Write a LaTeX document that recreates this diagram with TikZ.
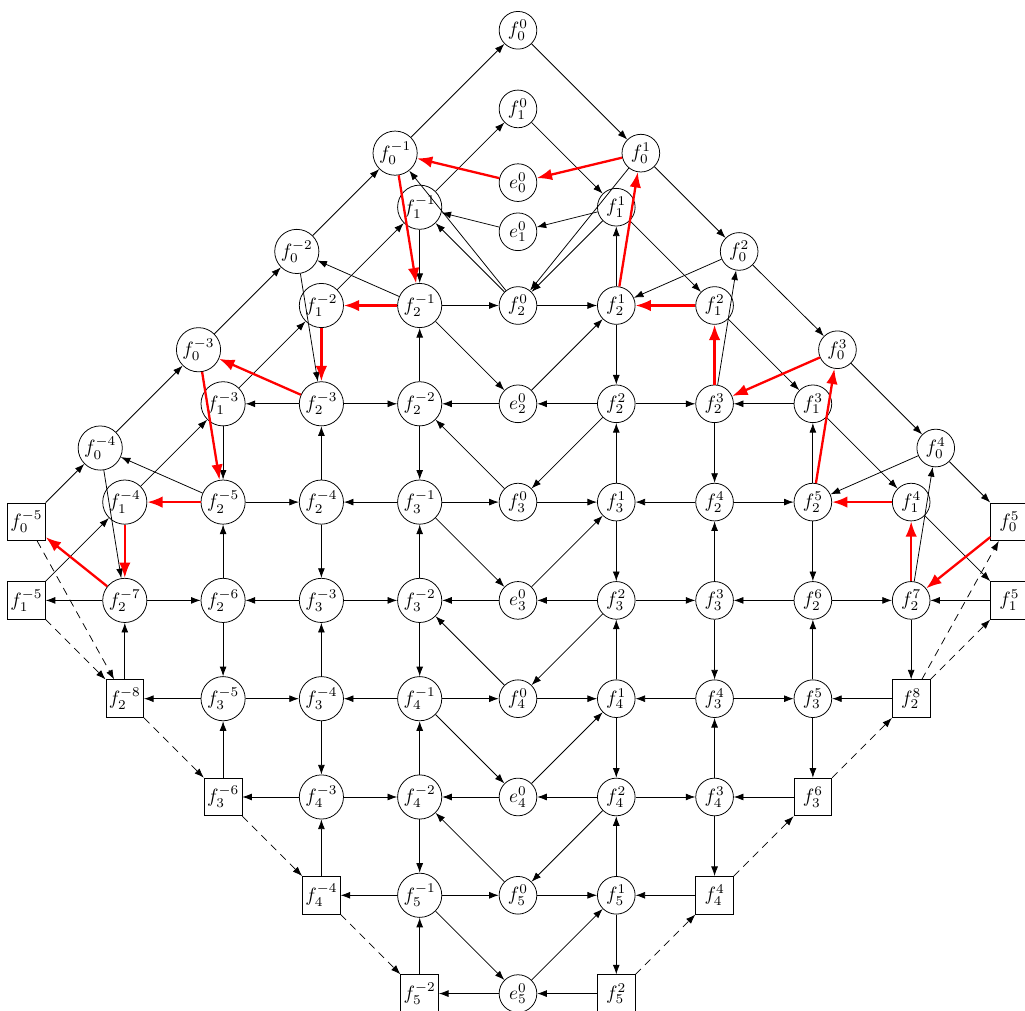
\documentclass[tikz,border=0pt]{standalone}
\usetikzlibrary{arrows.meta}
\begin{document}
\begin{tikzpicture}[x=1.8cm,y=1.8cm,
  cn/.style={circle,draw,inner sep=1pt,minimum size=0.69cm},
  sn/.style={rectangle,draw,inner sep=0pt,minimum size=0.69cm},
  ar/.style={-{Latex[length=5pt,width=3.6pt]}},
  rar/.style={red,line width=1.2pt,-{Latex[length=8pt,width=6pt]}},
  dar/.style={dash pattern=on 4pt off 3pt,-{Latex[length=5pt,width=3.6pt]}}]
\useasboundingbox (-0.2696,-7.177) rectangle (10.158,3.108);
% top
\node[cn] (f00) at (5,2.8) {$f_0^0$};
\node[cn] (f10) at (5,2) {$f_1^0$};
\node[cn] (f0m1) at (3.75,1.55) {$f_0^{-1}$};
\node[cn] (f01) at (6.25,1.55) {$f_0^1$};
\node[cn] (e0) at (5,1.25) {$e_0^0$};
\node[cn] (f1m1) at (4,1) {$f_1^{-1}$};
\node[cn] (f11) at (6,1) {$f_1^1$};
\node[cn] (e1) at (5,0.75) {$e_1^0$};
\node[cn] (f0m2) at (2.75,0.55) {$f_0^{-2}$};
\node[cn] (f02) at (7.25,0.55) {$f_0^2$};
% row 0
\node[cn] (f1m2) at (3,0) {$f_1^{-2}$};
\node[cn] (f2m1) at (4,0) {$f_2^{-1}$};
\node[cn] (f20) at (5,0) {$f_2^0$};
\node[cn] (f21) at (6,0) {$f_2^1$};
\node[cn] (f12) at (7,0) {$f_1^2$};
\node[cn] (f0m3) at (1.75,-0.45) {$f_0^{-3}$};
\node[cn] (f03) at (8.25,-0.45) {$f_0^3$};
% row -1
\node[cn] (f1m3) at (2,-1) {$f_1^{-3}$};
\node[cn] (f2m3) at (3,-1) {$f_2^{-3}$};
\node[cn] (f2m2) at (4,-1) {$f_2^{-2}$};
\node[cn] (e2) at (5,-1) {$e_2^0$};
\node[cn] (f22) at (6,-1) {$f_2^2$};
\node[cn] (f23) at (7,-1) {$f_2^3$};
\node[cn] (f13) at (8,-1) {$f_1^3$};
\node[cn] (f0m4) at (0.75,-1.45) {$f_0^{-4}$};
\node[cn] (f04) at (9.25,-1.45) {$f_0^4$};
% row -2
\node[cn] (f1m4) at (1,-2) {$f_1^{-4}$};
\node[cn] (f2m5) at (2,-2) {$f_2^{-5}$};
\node[cn] (f2m4) at (3,-2) {$f_2^{-4}$};
\node[cn] (f3m1) at (4,-2) {$f_3^{-1}$};
\node[cn] (f30) at (5,-2) {$f_3^0$};
\node[cn] (f31) at (6,-2) {$f_3^1$};
\node[cn] (f24) at (7,-2) {$f_2^4$};
\node[cn] (f25) at (8,-2) {$f_2^5$};
\node[cn] (f14) at (9,-2) {$f_1^4$};
\node[sn] (f0m5) at (0,-2.2) {$f_0^{-5}$};
\node[sn] (f05) at (10,-2.2) {$f_0^5$};
% row -3
\node[sn] (f1m5) at (0,-3) {$f_1^{-5}$};
\node[cn] (f2m7) at (1,-3) {$f_2^{-7}$};
\node[cn] (f2m6) at (2,-3) {$f_2^{-6}$};
\node[cn] (f3m3) at (3,-3) {$f_3^{-3}$};
\node[cn] (f3m2) at (4,-3) {$f_3^{-2}$};
\node[cn] (e3) at (5,-3) {$e_3^0$};
\node[cn] (f32) at (6,-3) {$f_3^2$};
\node[cn] (f33) at (7,-3) {$f_3^3$};
\node[cn] (f26) at (8,-3) {$f_2^6$};
\node[cn] (f27) at (9,-3) {$f_2^7$};
\node[sn] (f15) at (10,-3) {$f_1^5$};
% row -4
\node[sn] (f2m8) at (1,-4) {$f_2^{-8}$};
\node[cn] (f3m5) at (2,-4) {$f_3^{-5}$};
\node[cn] (f3m4) at (3,-4) {$f_3^{-4}$};
\node[cn] (f4m1) at (4,-4) {$f_4^{-1}$};
\node[cn] (f40) at (5,-4) {$f_4^0$};
\node[cn] (f41) at (6,-4) {$f_4^1$};
\node[cn] (f34) at (7,-4) {$f_3^4$};
\node[cn] (f35) at (8,-4) {$f_3^5$};
\node[sn] (f28) at (9,-4) {$f_2^8$};
% row -5
\node[sn] (f3m6) at (2,-5) {$f_3^{-6}$};
\node[cn] (f4m3) at (3,-5) {$f_4^{-3}$};
\node[cn] (f4m2) at (4,-5) {$f_4^{-2}$};
\node[cn] (e4) at (5,-5) {$e_4^0$};
\node[cn] (f42) at (6,-5) {$f_4^2$};
\node[cn] (f43) at (7,-5) {$f_4^3$};
\node[sn] (f36) at (8,-5) {$f_3^6$};
% row -6
\node[sn] (f4m4) at (3,-6) {$f_4^{-4}$};
\node[cn] (f5m1) at (4,-6) {$f_5^{-1}$};
\node[cn] (f50) at (5,-6) {$f_5^0$};
\node[cn] (f51) at (6,-6) {$f_5^1$};
\node[sn] (f44) at (7,-6) {$f_4^4$};
% row -7
\node[sn] (f5m2) at (4,-7) {$f_5^{-2}$};
\node[cn] (e5) at (5,-7) {$e_5^0$};
\node[sn] (f52) at (6,-7) {$f_5^2$};
% black edges
\foreach \a/\b in {f0m5/f0m4, f0m4/f0m3, f0m3/f0m2, f0m2/f0m1, f0m1/f00, f00/f01, f01/f02, f02/f03, f03/f04, f04/f05,
 f1m5/f1m4, f1m4/f1m3, f1m3/f1m2, f1m2/f1m1, f1m1/f10, f10/f11, f11/f12, f12/f13, f13/f14, f14/f15,
 f11/e1, e1/f1m1, f20/f1m1, f20/f0m1, f01/f20, f11/f20, f21/f11, f1m1/f2m1,
 f0m4/f2m7, f0m2/f2m3, f2m1/f0m2, f2m5/f0m4, f02/f21, f23/f02, f04/f25, f27/f04,
 f2m1/e2, e2/f21, f22/f30, f30/f2m2, f3m1/e3, e3/f31, f32/f40, f40/f3m2, f4m1/e4, e4/f41, f42/f50, f50/f4m2, f5m1/e5, e5/f51,
 f2m1/f20, f20/f21, e2/f2m2, f22/e2, f3m1/f30, f30/f31, e3/f3m2, f32/e3, f4m1/f40, f40/f41, e4/f4m2, f42/e4, f5m1/f50, f50/f51, e5/f5m2, f52/e5,
 f2m2/f2m1, f2m2/f3m1, f3m2/f3m1, f3m2/f4m1, f4m2/f4m1, f4m2/f5m1, f5m2/f5m1,
 f21/f22, f31/f22, f31/f32, f41/f32, f41/f42, f51/f42, f51/f52,
 f2m4/f2m3, f2m4/f3m3, f3m4/f3m3, f3m4/f4m3, f4m4/f4m3,
 f23/f24, f33/f24, f33/f34, f43/f34, f43/f44,
 f1m3/f2m5, f2m6/f2m5, f2m6/f3m5, f3m6/f3m5,
 f25/f13, f25/f26, f35/f26, f35/f36,
 f2m8/f2m7, f27/f28,
 f2m3/f1m3, f2m3/f2m2, f22/f23, f13/f23,
 f2m5/f2m4, f3m1/f2m4, f24/f31, f24/f25,
 f2m7/f1m5, f2m7/f2m6, f3m3/f2m6, f3m3/f3m2, f32/f33, f26/f33, f26/f27, f15/f27,
 f3m5/f2m8, f3m5/f3m4, f4m1/f3m4, f34/f41, f34/f35, f28/f35,
 f4m3/f3m6, f4m3/f4m2, f42/f43, f36/f43,
 f5m1/f4m4, f44/f51}
  \draw[ar] (\a) -- (\b);
% red edges
\foreach \a/\b in {f01/e0, e0/f0m1, f0m1/f2m1, f2m1/f1m2, f1m2/f2m3, f2m3/f0m3, f0m3/f2m5, f2m5/f1m4, f1m4/f2m7, f2m7/f0m5,
 f21/f01, f12/f21, f23/f12, f03/f23, f25/f03, f14/f25, f27/f14, f05/f27}
  \draw[rar] (\a) -- (\b);
% dashed edges
\foreach \a/\b in {f0m5/f2m8, f1m5/f2m8, f2m8/f3m6, f3m6/f4m4, f4m4/f5m2, f52/f44, f44/f36, f36/f28, f28/f05, f28/f15}
  \draw[dar] (\a) -- (\b);
\end{tikzpicture}
\end{document}
